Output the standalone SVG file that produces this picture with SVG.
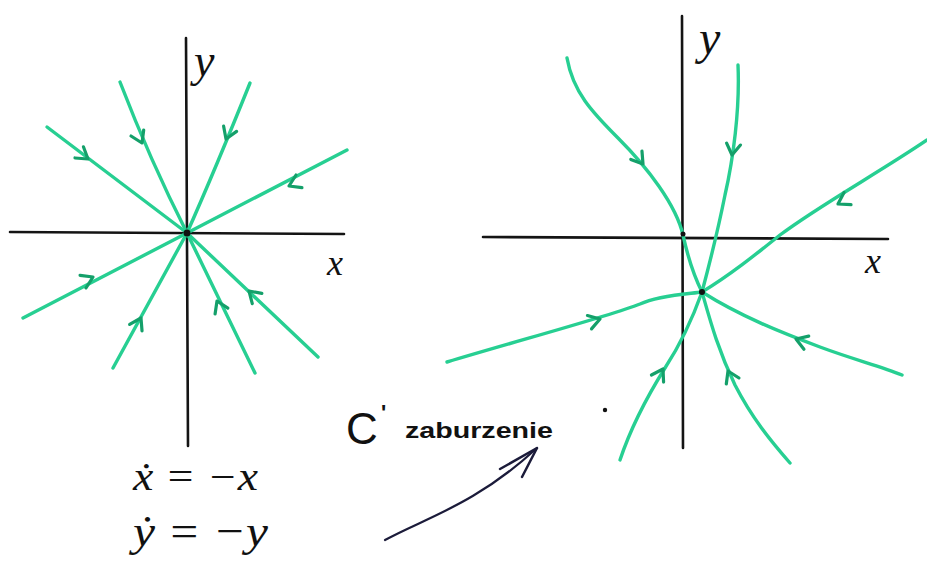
<svg xmlns="http://www.w3.org/2000/svg" xmlns:xlink="http://www.w3.org/1999/xlink" width="927" height="586" viewBox="0 0 927 586">
<style>
.axis{stroke:#141414;stroke-width:2.6;fill:none;stroke-linecap:round}
.traj{stroke:#27cf92;stroke-width:3.4;fill:none;stroke-linecap:round}
.ah{stroke:#14a06a;stroke-width:3.2;fill:none;stroke-linecap:round;stroke-linejoin:round}
.lbl{font-family:"Liberation Serif",serif;font-style:italic;fill:#111}
.hand{font-family:"Liberation Sans",sans-serif;fill:#111}
</style>
<defs>
<path id="ah" class="ah" d="M-11,-7 L0,0 L-11,7"/>
</defs>
<rect width="927" height="586" fill="#fff"/>

<g id="left-plot">
  <g id="left-axes">
    <path class="axis" d="M186,38 L188,446"/>
    <path class="axis" d="M10,232 L344,234"/>
    <text class="lbl" x="194" y="76" font-size="46">y</text>
    <text class="lbl" x="327" y="275" font-size="36">x</text>
  </g>
  <g id="left-trajectories">
    <path class="traj" d="M47,127 L187,233"/>
    <path class="traj" d="M120,82 Q150,160 187,233"/>
    <path class="traj" d="M250,83 Q215,170 187,233"/>
    <path class="traj" d="M347,150 L187,233"/>
    <path class="traj" d="M23,318 L187,233"/>
    <path class="traj" d="M113,368 L187,233"/>
    <path class="traj" d="M255,373 L187,233"/>
    <path class="traj" d="M318,357 L187,233"/>
    <use href="#ah" transform="translate(88,159) rotate(37)"/>
    <use href="#ah" transform="translate(142,143) rotate(65)"/>
    <use href="#ah" transform="translate(226,139) rotate(112)"/>
    <use href="#ah" transform="translate(289,186) rotate(155)"/>
    <use href="#ah" transform="translate(93,277) rotate(-25)"/>
    <use href="#ah" transform="translate(141,318) rotate(-62)"/>
    <use href="#ah" transform="translate(217,301) rotate(-114)"/>
    <use href="#ah" transform="translate(249,291) rotate(-137)"/>
    <circle cx="187" cy="233" r="3.5" fill="#111"/>
  </g>
</g>

<g id="right-plot">
  <g id="right-axes">
    <path class="axis" d="M682,16 L683,448"/>
    <path class="axis" d="M483,237 L888,239"/>
    <text class="lbl" x="699" y="54" font-size="48">y</text>
    <text class="lbl" x="865" y="273" font-size="36">x</text>
  </g>
  <g id="right-trajectories">
    <path class="traj" d="M567,58 C573,92 592,112 618,138 C648,168 676,205 683,235 C688,258 695,278 702,292"/>
    <path class="traj" d="M702,292 C710,320 718,350 735,385 C752,418 770,440 790,463"/>
    <path class="traj" d="M738,65 C740,110 733,160 725,195 C718,230 710,262 702,292"/>
    <path class="traj" d="M702,292 C692,320 680,345 665,368 C645,400 630,430 620,460"/>
    <path class="traj" d="M927,140 C880,172 820,205 780,235 C755,255 730,275 702,292"/>
    <path class="traj" d="M702,292 C688,294 660,295 640,304 C610,316 520,340 447,362"/>
    <path class="traj" d="M702,292 C740,316 780,332 820,347 C855,360 880,366 902,375"/>
    <use href="#ah" transform="translate(643,164) rotate(53)"/>
    <use href="#ah" transform="translate(732,155) rotate(98)"/>
    <use href="#ah" transform="translate(838,204) rotate(150)"/>
    <use href="#ah" transform="translate(600,319) rotate(-17)"/>
    <use href="#ah" transform="translate(796,339) rotate(-160)"/>
    <use href="#ah" transform="translate(663,369) rotate(-60)"/>
    <use href="#ah" transform="translate(728,371) rotate(-115)"/>
    <circle cx="702" cy="292" r="3" fill="#111"/>
    <circle cx="683" cy="234" r="2.5" fill="#111"/>
  </g>
</g>

<g id="equations">
  <text class="lbl" x="133" y="490" font-size="40" font-style="normal" textLength="125" lengthAdjust="spacingAndGlyphs">ẋ = −x</text>
  <text class="lbl" x="133" y="546" font-size="44" font-style="normal" textLength="135" lengthAdjust="spacingAndGlyphs">ẏ = −y</text>
</g>

<g id="perturbation-label">
  <text class="hand" x="346" y="444" font-size="44">C</text>
  <text class="hand" x="381" y="420" font-size="22" font-weight="bold">'</text>
  <text class="hand" x="405" y="438" font-size="22" font-weight="bold" textLength="148" lengthAdjust="spacingAndGlyphs">zaburzenie</text>
  <circle cx="605" cy="410" r="2.2" fill="#111"/>
</g>

<g id="connectors">
  <path d="M385,540 C425,518 475,505 537,448" stroke="#1b1b3a" stroke-width="2.2" fill="none" stroke-linecap="round"/>
  <path d="M500,469 L537,448 L522,477" stroke="#1b1b3a" stroke-width="2.5" fill="none" stroke-linecap="round" stroke-linejoin="round"/>
</g>
</svg>
